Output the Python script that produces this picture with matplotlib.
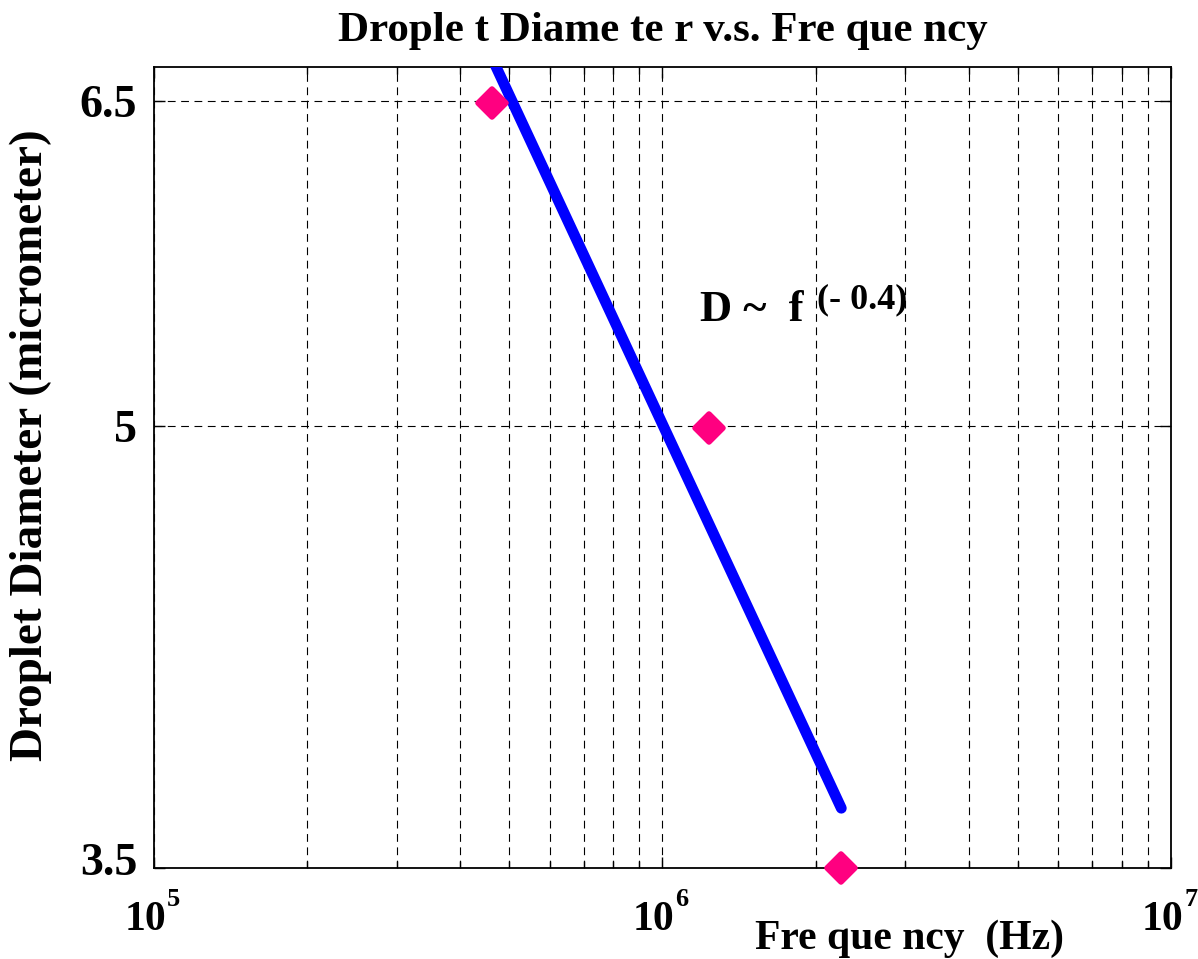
import matplotlib
matplotlib.use("Agg")
import matplotlib.pyplot as plt
from matplotlib.markers import MarkerStyle
from matplotlib.transforms import blended_transform_factory, offset_copy, ScaledTranslation
from matplotlib.ticker import FixedLocator, NullLocator, NullFormatter, LogLocator

# ---- data ----
freq_hz = [4.63e5, 1.235e6, 2.24e6]
diameter_um = [6.49, 4.99, 3.50]
fit_freq = [4.6e5, 2.247e6]
fit_diam = [6.74, 3.673]
x_ticks = [1e5, 1e6, 1e7]
x_tick_base = "10"
x_tick_exponents = ["5", "6", "7"]
y_ticks = [3.5, 5, 6.5]
y_ticklabels = ["3.5", "5", "6.5"]
title = "Drople t Diame te r v.s. Fre que ncy"
xlabel = "Fre que ncy  (Hz)"
ylabel = "Droplet Diameter (micrometer)"
annot_main = "D ~  f"
annot_exp = "(- 0.4)"

plt.rcParams["font.family"] = ["Liberation Serif", "DejaVu Serif"]
plt.rcParams["font.weight"] = "bold"

fig = plt.figure(figsize=(11.98, 9.59), dpi=100)
ax = fig.add_axes([0.1285, 0.0949, 0.849, 0.8352])

ax.set_xscale("log")
ax.set_yscale("log")
ax.set_xlim(1e5, 1e7)
ax.set_ylim(3.5, 6.68)

# ticks and grid
ax.xaxis.set_major_locator(FixedLocator(x_ticks))
ax.xaxis.set_minor_locator(LogLocator(base=10, subs=range(2, 10)))
ax.xaxis.set_minor_formatter(NullFormatter())
ax.set_xticklabels([""] * len(x_ticks))
ax.yaxis.set_major_locator(FixedLocator(y_ticks))
ax.yaxis.set_minor_locator(NullLocator())
ax.yaxis.set_minor_formatter(NullFormatter())
ax.set_yticklabels(y_ticklabels, fontsize=33, fontweight="bold")

gkw = dict(color="black", linestyle=(0, (7, 5)), linewidth=0.8)
ax.grid(True, which="major", axis="both", **gkw)
ax.grid(True, which="minor", axis="x", **gkw)

ax.tick_params(axis="both", which="both", direction="in", top=True, right=True)
ax.tick_params(axis="both", which="major", length=8, width=1)
ax.tick_params(axis="x", which="minor", length=5, width=1)
ax.tick_params(axis="y", which="major", pad=12)
for s in ax.spines.values():
    s.set_linewidth(1.3)

# lowest y label sits slightly above its tick, as in the reference
lbl = ax.yaxis.get_major_ticks()[0].label1
lbl.set_transform(lbl.get_transform() + ScaledTranslation(0, 0.09, fig.dpi_scale_trans))

# x tick labels as 10 with raised exponent
trans = blended_transform_factory(ax.transData, ax.transAxes)
for v, e in zip(x_ticks, x_tick_exponents):
    ax.text(v, 0, x_tick_base, transform=offset_copy(trans, fig=fig, x=12, y=-62, units="dots"),
            ha="right", va="baseline", fontsize=30, fontweight="bold", clip_on=False)
    ax.text(v, 0, e, transform=offset_copy(trans, fig=fig, x=13, y=-38, units="dots"),
            ha="left", va="baseline", fontsize=19, fontweight="bold", clip_on=False)

# fit line
ax.plot(fit_freq, fit_diam, color="#0000ff", linewidth=7.8,
        solid_capstyle="round", zorder=3)
# data points
ax.plot(freq_hz, diameter_um, linestyle="none",
        marker=MarkerStyle("D", joinstyle="round"), markersize=14,
        markerfacecolor="#ff0080", markeredgecolor="#ff0080",
        markeredgewidth=4, clip_on=False, zorder=4)

# annotation
ax.text(1.186e6, 5.44, annot_main, fontsize=32, fontweight="bold", va="baseline", ha="left")
ax.text(2.016e6, 5.50, annot_exp, fontsize=26, fontweight="bold", va="baseline", ha="left")

ax.set_title(title, fontsize=31, fontweight="bold", pad=19)
ax.set_xlabel(xlabel, fontsize=30, fontweight="bold")
ax.xaxis.set_label_coords(0.743, -0.064)
ax.set_ylabel(ylabel, fontsize=34, fontweight="bold")
ax.yaxis.set_label_coords(-0.1003, 0.528)

fig.savefig("out.png", dpi=100)
